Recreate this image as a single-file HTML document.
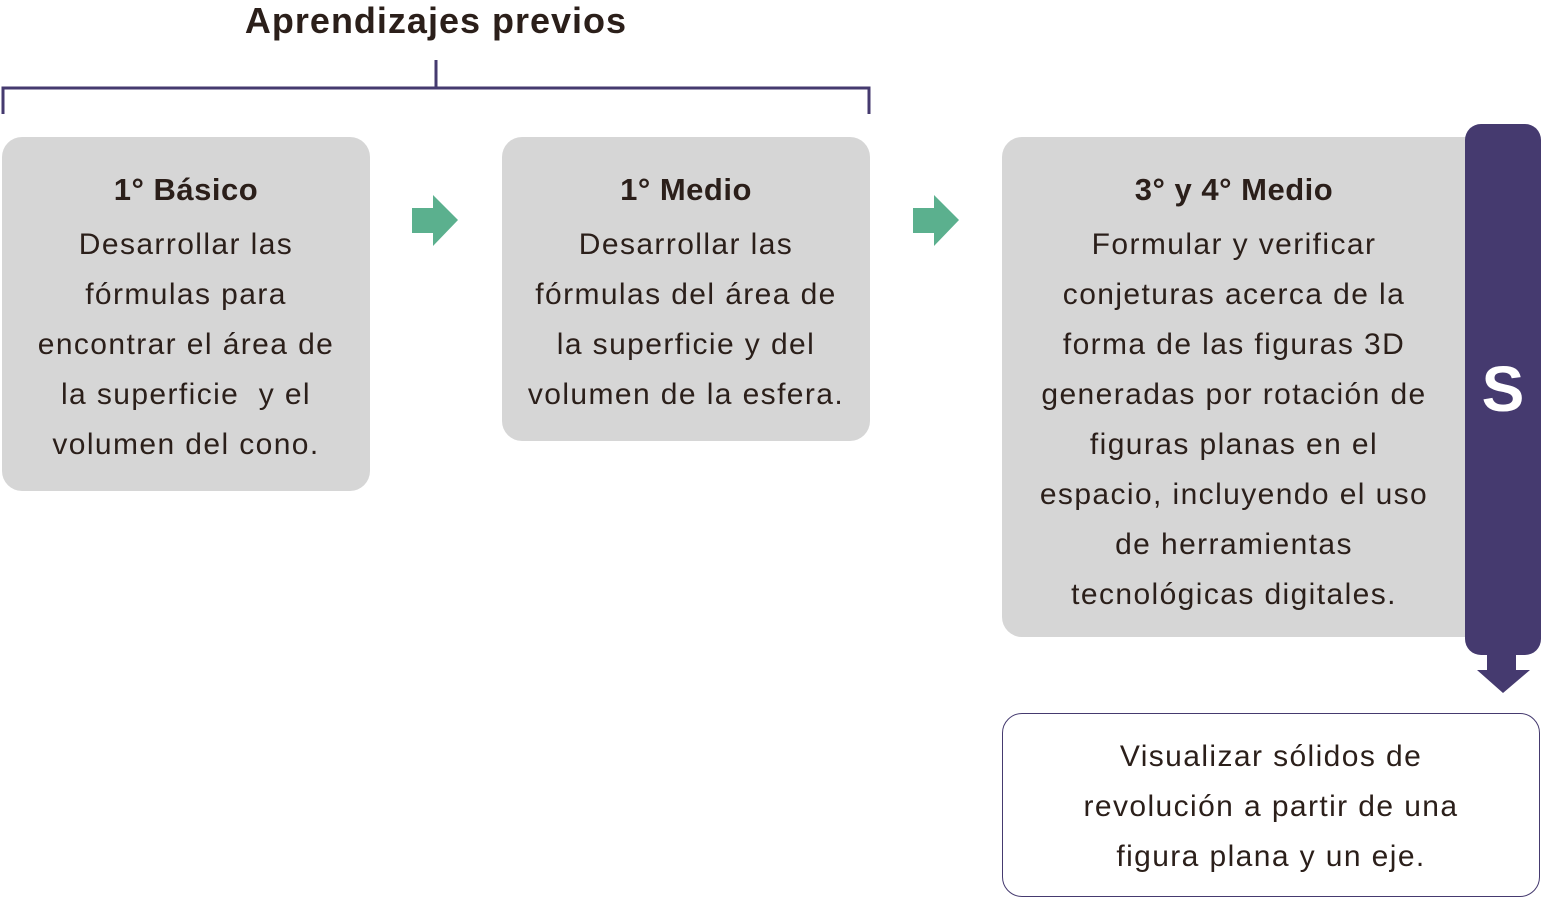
<!DOCTYPE html>
<html><head><meta charset="utf-8"><style>
body{margin:0;width:1542px;height:899px;background:#fff;position:relative;font-family:"Liberation Sans",sans-serif;color:#2b1f1a;overflow:hidden}
.box{position:absolute;background:#d6d6d6;border-radius:20px;text-align:center;font-size:30px;letter-spacing:1.4px;line-height:50px;box-sizing:border-box;white-space:nowrap}
.box b{display:block;font-size:31px;letter-spacing:0.5px;margin-bottom:5px}
.t{position:absolute}
</style></head><body>
<div class="t" style="left:0;width:872px;top:0;text-align:center;font-size:36px;font-weight:bold;line-height:42px;letter-spacing:1px">Aprendizajes previos</div>
<svg width="1542" height="899" style="position:absolute;left:0;top:0">
<path d="M3,114 V88 H869 V114 M436,88 V60" fill="none" stroke="#453a6f" stroke-width="3"/>
<polygon points="412,208 433,208 433,195 458,220 433,246 433,233 412,233" fill="#5bb08e"/>
<polygon points="913,208 934,208 934,195 959,220 934,246 934,233 913,233" fill="#5bb08e"/>
<polygon points="1487,650 1516,650 1516,670 1530,670 1503,693 1477,670 1487,670" fill="#453a6f"/>
</svg>
<div class="box" style="left:2px;top:137px;width:368px;height:354px;padding-top:28px"><b>1° Básico</b>Desarrollar las<br>fórmulas para<br>encontrar el área de<br>la superficie &nbsp;y el<br>volumen del cono.</div>
<div class="box" style="left:502px;top:137px;width:368px;height:304px;padding-top:28px"><b>1° Medio</b>Desarrollar las<br>fórmulas del área de<br>la superficie y del<br>volumen de la esfera.</div>
<div class="box" style="left:1002px;top:137px;width:490px;height:500px;padding-top:28px;padding-right:26px"><b>3° y 4° Medio</b>Formular y verificar<br>conjeturas acerca de la<br>forma de las figuras 3D<br>generadas por rotación de<br>figuras planas en el<br>espacio, incluyendo el uso<br>de herramientas<br>tecnológicas digitales.</div>
<div style="position:absolute;left:1465px;top:124px;width:76px;height:531px;background:#453a6f;border-radius:16px;color:#fff;font-weight:bold;font-size:64px;text-align:center;line-height:531px">S</div>
<div style="position:absolute;left:1002px;top:713px;width:538px;height:184px;border:1.5px solid #453a6f;border-radius:20px;box-sizing:border-box;text-align:center;font-size:30px;letter-spacing:1.4px;line-height:50px;padding-top:18px">Visualizar sólidos de<br>revolución a partir de una<br>figura plana y un eje.</div>
</body></html>
